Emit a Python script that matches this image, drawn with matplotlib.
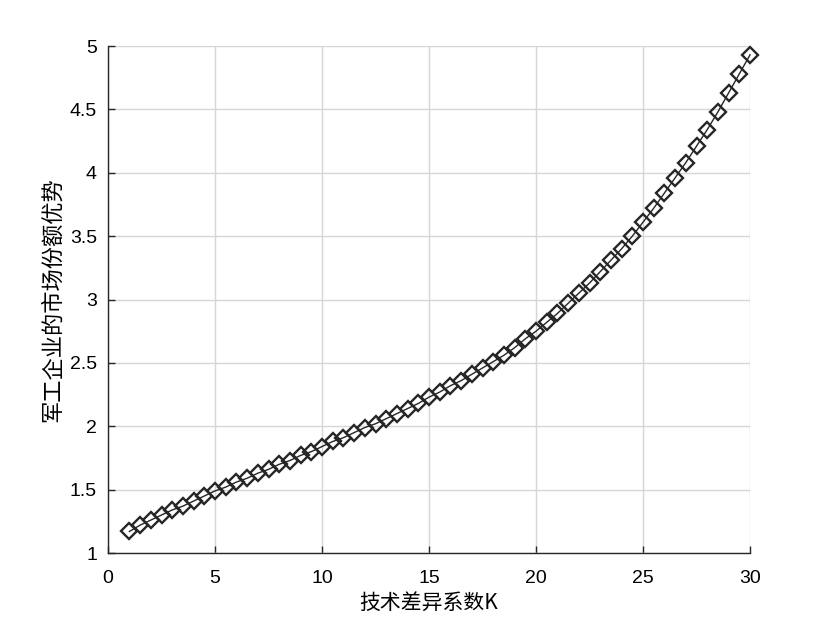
import matplotlib
matplotlib.use("Agg")
import matplotlib.pyplot as plt

K = [1.0, 1.5, 2.0, 2.5, 3.0, 3.5, 4.0, 4.5, 5.0, 5.5, 6.0, 6.5, 7.0, 7.5, 8.0, 8.5,
     9.0, 9.5, 10.0, 10.5, 11.0, 11.5, 12.0, 12.5, 13.0, 13.5, 14.0, 14.5, 15.0,
     15.5, 16.0, 16.5, 17.0, 17.5, 18.0, 18.5, 19.0, 19.5, 20.0, 20.5, 21.0, 21.5,
     22.0, 22.5, 23.0, 23.5, 24.0, 24.5, 25.0, 25.5, 26.0, 26.5, 27.0, 27.5, 28.0,
     28.5, 29.0, 29.5, 30.0]
advantage = [1.17, 1.22, 1.26, 1.30, 1.34, 1.37, 1.41, 1.45, 1.49, 1.52, 1.56, 1.59,
             1.63, 1.66, 1.70, 1.73, 1.77, 1.80, 1.84, 1.88, 1.91, 1.95, 1.99, 2.02,
             2.06, 2.10, 2.14, 2.18, 2.23, 2.27, 2.32, 2.36, 2.41, 2.46, 2.51, 2.56,
             2.62, 2.69, 2.75, 2.82, 2.89, 2.97, 3.05, 3.13, 3.22, 3.31, 3.40, 3.50,
             3.61, 3.72, 3.84, 3.96, 4.08, 4.21, 4.34, 4.48, 4.63, 4.78, 4.93]

xticks = [0, 5, 10, 15, 20, 25, 30]
yticks = [1, 1.5, 2, 2.5, 3, 3.5, 4, 4.5, 5]
ytick_labels = ["1", "1.5", "2", "2.5", "3", "3.5", "4", "4.5", "5"]
xlabel = "技术差异系数K"
ylabel = "军工企业的市场份额优势"

fig = plt.figure(figsize=(8.27, 6.2), dpi=100)
ax = fig.add_axes([0.1306, 0.108, 0.7763, 0.8178])

dark = "#262626"
ax.plot(K, advantage, color=dark, linewidth=1.0, marker="D", markersize=8,
        markerfacecolor="none", markeredgecolor=dark, markeredgewidth=1.7,
        zorder=3, clip_on=False)

ax.set_xlim(0, 30)
ax.set_ylim(1, 5)
ax.set_xticks(xticks)
ax.set_yticks(yticks)
ax.set_yticklabels(ytick_labels)
ax.grid(True, color="#d6d6d6", linewidth=1.0)
ax.set_axisbelow(True)

for s in ["top", "right"]:
    ax.spines[s].set_visible(False)
for s in ["left", "bottom"]:
    ax.spines[s].set_color(dark)
    ax.spines[s].set_linewidth(1.0)

ax.tick_params(direction="in", length=5, width=1.0, color=dark,
               labelsize=14, labelcolor="black")
ax.tick_params(axis="x", pad=12)
ax.tick_params(axis="y", pad=8)
for lab in ax.get_xticklabels() + ax.get_yticklabels():
    lab.set_fontfamily("Liberation Sans")

ax.set_xlabel(xlabel, fontsize=15, family=["Noto Sans CJK SC", "DejaVu Sans"], labelpad=4)
ax.set_ylabel(ylabel, fontsize=16, family=["Noto Sans CJK SC", "DejaVu Sans"], labelpad=4)

fig.savefig("out.png", dpi=100, facecolor="white")
